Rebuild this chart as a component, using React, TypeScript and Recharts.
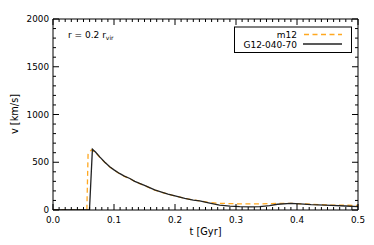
import React from 'react';
import { LineChart, Line, XAxis, YAxis } from 'recharts';

// G12-040-70 (black solid)
const tG12 = [0, 0.0598, 0.0646, 0.07, 0.0766, 0.085, 0.093, 0.1, 0.109, 0.117, 0.126, 0.134, 0.142, 0.15, 0.1667, 0.178, 0.1885, 0.2, 0.216, 0.23, 0.2405, 0.255, 0.273, 0.29, 0.306, 0.325, 0.339, 0.355, 0.368, 0.39, 0.405, 0.423, 0.456, 0.48, 0.5];
const vG12 = [0, 0, 636, 605, 556, 500, 452, 420, 383, 355, 330, 300, 278, 258, 210, 188, 167, 148, 122, 104, 95, 75, 52, 40, 35, 33, 35, 45, 60, 70, 64, 56, 49, 42, 35];

// m12 (orange dashed)
const tM12 = [0, 0.0555, 0.0575, 0.063, 0.07, 0.0766, 0.085, 0.093, 0.1, 0.109, 0.117, 0.126, 0.134, 0.142, 0.15, 0.1667, 0.178, 0.1885, 0.2, 0.216, 0.23, 0.2405, 0.255, 0.273, 0.306, 0.339, 0.366, 0.39, 0.423, 0.456, 0.5];
const vM12 = [0, 0, 590, 630, 600, 552, 498, 450, 418, 380, 352, 328, 298, 276, 256, 208, 186, 166, 147, 122, 105, 96, 80, 70, 64, 64, 68, 70, 60, 52, 48];

const xMajorTicks = [0, 0.1, 0.2, 0.3, 0.4, 0.5];
const xTickLabels = ['0.0', '0.1', '0.2', '0.3', '0.4', '0.5'];
const yMajorTicks = [0, 500, 1000, 1500, 2000];
const yTickLabels = ['0', '500', '1000', '1500', '2000'];
const xAllTicks = Array.from({ length: 51 }, (_, i) => i / 100);
const yAllTicks = Array.from({ length: 21 }, (_, i) => i * 100);

const g12 = tG12.map((t, i) => ({ t, v: vG12[i] }));
const m12 = tM12.map((t, i) => ({ t, v: vM12[i] }));

const FONT = 'DejaVu Sans';
const ORANGE = '#ffa820';

const xMajorIndex = (v: number) => xMajorTicks.findIndex((m) => Math.abs(m - v) < 1e-6);
const yMajorIndex = (v: number) => yMajorTicks.findIndex((m) => Math.abs(m - v) < 1e-6);

const BottomTick = (props: any) => {
  const { x, y, payload } = props;
  const idx = xMajorIndex(payload.value);
  const major = idx >= 0;
  return (
    <g>
      <line x1={x} x2={x} y1={y} y2={y - (major ? 6 : 3)} stroke="#000" strokeWidth={1} />
      {major && (
        <text x={x} y={y + 13} textAnchor="middle" fontFamily={FONT} fontSize={8.8} fill="#000">
          {xTickLabels[idx]}
        </text>
      )}
    </g>
  );
};

const TopTick = (props: any) => {
  const { x, y, payload } = props;
  const major = xMajorIndex(payload.value) >= 0;
  return <line x1={x} x2={x} y1={y} y2={y + (major ? 6 : 3)} stroke="#000" strokeWidth={1} />;
};

const LeftTick = (props: any) => {
  const { x, y, payload } = props;
  const idx = yMajorIndex(payload.value);
  const major = idx >= 0;
  return (
    <g>
      <line x1={x} x2={x + (major ? 6 : 3)} y1={y} y2={y} stroke="#000" strokeWidth={1} />
      {major && (
        <text x={x - 4} y={y + 3.2} textAnchor="end" fontFamily={FONT} fontSize={8.8} fill="#000">
          {yTickLabels[idx]}
        </text>
      )}
    </g>
  );
};

const RightTick = (props: any) => {
  const { x, y, payload } = props;
  const major = yMajorIndex(payload.value) >= 0;
  return <line x1={x} x2={x - (major ? 6 : 3)} y1={y} y2={y} stroke="#000" strokeWidth={1} />;
};

export default function App() {
  return (
    <div style={{ position: 'absolute', left: 0, top: 0, width: 374, height: 245, background: '#fff' }}>
      <LineChart width={374} height={245} data={g12} margin={{ top: 18, right: 15, bottom: 0, left: 0 }}>
        <XAxis
          xAxisId="b"
          dataKey="t"
          type="number"
          domain={[0, 0.5]}
          ticks={xAllTicks}
          interval={0}
          tick={<BottomTick />}
          tickLine={false}
          tickSize={0}
          tickMargin={0}
          height={35}
          axisLine={{ stroke: '#000', strokeWidth: 1 }}
          allowDataOverflow
          label={{
            content: (p: any) => {
              const vb = p.viewBox || {};
              return (
                <text x={vb.x + vb.width / 2} y={235} textAnchor="middle" fontFamily={FONT} fontSize={9.8} fill="#000">
                  t [Gyr]
                </text>
              );
            },
          }}
        />
        <XAxis
          xAxisId="t"
          orientation="top"
          dataKey="t"
          type="number"
          domain={[0, 0.5]}
          ticks={xAllTicks}
          interval={0}
          tick={<TopTick />}
          tickLine={false}
          tickSize={0}
          tickMargin={0}
          height={1}
          axisLine={{ stroke: '#000', strokeWidth: 1 }}
          allowDataOverflow
        />
        <YAxis
          yAxisId="l"
          type="number"
          domain={[0, 2000]}
          ticks={yAllTicks}
          interval={0}
          tick={<LeftTick />}
          tickLine={false}
          tickSize={0}
          tickMargin={0}
          width={53}
          axisLine={{ stroke: '#000', strokeWidth: 1 }}
          allowDataOverflow
          label={{
            content: () => (
              <text
                x={18}
                y={114}
                transform="rotate(-90 18 114)"
                textAnchor="middle"
                fontFamily={FONT}
                fontSize={9.8}
                fill="#000"
              >
                v [km/s]
              </text>
            ),
          }}
        />
        <YAxis
          yAxisId="r"
          orientation="right"
          type="number"
          domain={[0, 2000]}
          ticks={yAllTicks}
          interval={0}
          tick={<RightTick />}
          tickLine={false}
          tickSize={0}
          tickMargin={0}
          width={1}
          axisLine={{ stroke: '#000', strokeWidth: 1 }}
          allowDataOverflow
        />
        <Line
          xAxisId="b"
          yAxisId="l"
          data={m12}
          dataKey="v"
          type="linear"
          stroke={ORANGE}
          strokeWidth={1.3}
          strokeDasharray="5 3.5"
          dot={false}
          isAnimationActive={false}
        />
        <Line
          xAxisId="b"
          yAxisId="l"
          data={g12}
          dataKey="v"
          type="linear"
          stroke="#222"
          strokeWidth={1.3}
          dot={false}
          isAnimationActive={false}
        />
      </LineChart>
      <svg
        width={374}
        height={245}
        style={{ position: 'absolute', left: 0, top: 0, pointerEvents: 'none' }}
      >
        <text x={68} y={37.5} fontFamily={FONT} fontSize={9} fill="#000">
          r = 0.2 r
          <tspan fontSize={6} dy={2}>vir</tspan>
        </text>
        <rect x={234.5} y={27} width={117} height={25.5} fill="#fff" stroke="#000" strokeWidth={1} />
        <text x={297} y={37.5} textAnchor="end" fontFamily={FONT} fontSize={9} fill="#000">
          m12
        </text>
        <line x1={304} x2={342} y1={34.5} y2={34.5} stroke={ORANGE} strokeWidth={1.3} strokeDasharray="5 3.5" />
        <text x={297} y={47.5} textAnchor="end" fontFamily={FONT} fontSize={9} fill="#000">
          G12-040-70
        </text>
        <line x1={303} x2={342} y1={44} y2={44} stroke="#222" strokeWidth={1.3} />
      </svg>
    </div>
  );
}
